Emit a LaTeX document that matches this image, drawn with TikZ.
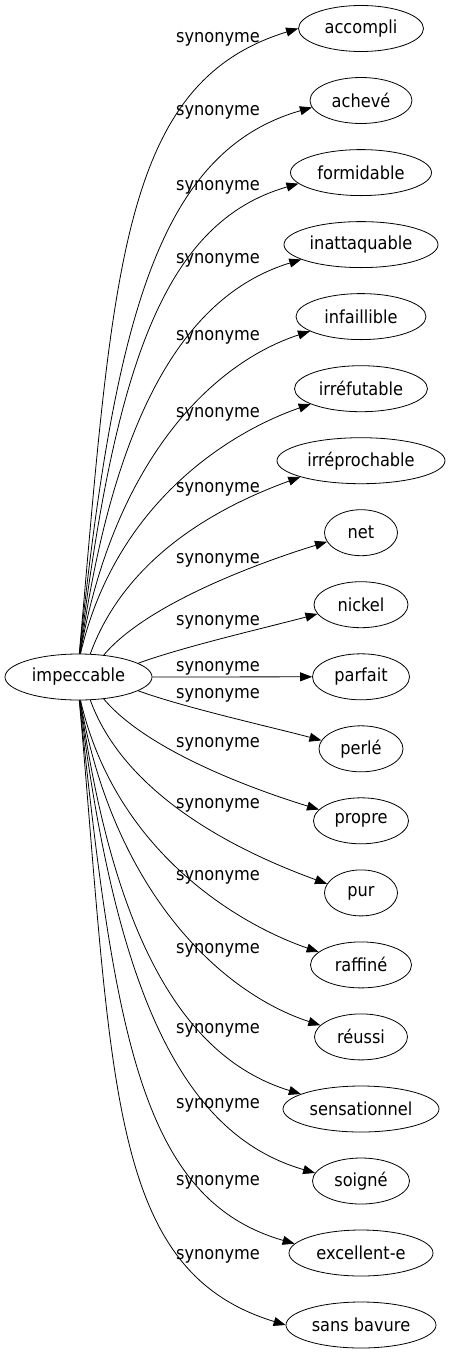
\documentclass[tikz,border=0pt]{standalone}
\usepackage{fontspec}
\setmainfont{DejaVu Sans Condensed}
\usetikzlibrary{shapes.geometric,arrows.meta}
\begin{document}
\begin{tikzpicture}[x=1pt,y=1pt,
  ell/.style={draw,ellipse,inner sep=0pt,minimum height=46pt,line width=0.8pt,font=\fontsize{18}{20}\selectfont},
  edge/.style={draw,line width=0.8pt,-{Triangle[length=12pt,width=9pt]}},
  lab/.style={anchor=base,inner sep=0pt,font=\fontsize{18}{20}\selectfont}]
\useasboundingbox (0,0) rectangle (451,-1355);
\node[ell,minimum width=147pt] (imp) at (78.5,-677) {impeccable};
\node[ell,minimum width=125pt] (n1) at (361,-28.5) {accompli};
\node[ell,minimum width=102pt] (n2) at (361,-100.5) {achevé};
\node[ell,minimum width=141pt] (n3) at (361,-172.6) {formidable};
\node[ell,minimum width=154pt] (n4) at (361,-244.6) {inattaquable};
\node[ell,minimum width=130pt] (n5) at (361,-316.6) {infaillible};
\node[ell,minimum width=133pt] (n6) at (361,-388.7) {irréfutable};
\node[ell,minimum width=168pt] (n7) at (361,-460.7) {irréprochable};
\node[ell,minimum width=73pt] (n8) at (361,-532.7) {net};
\node[ell,minimum width=94pt] (n9) at (361,-604.7) {nickel};
\node[ell,minimum width=97pt] (n10) at (361,-676.8) {parfait};
\node[ell,minimum width=84pt] (n11) at (361,-748.8) {perlé};
\node[ell,minimum width=95pt] (n12) at (361,-820.8) {propre};
\node[ell,minimum width=73pt] (n13) at (361,-892.9) {pur};
\node[ell,minimum width=101pt] (n14) at (361,-964.9) {raffiné};
\node[ell,minimum width=93pt] (n15) at (361,-1036.9) {réussi};
\node[ell,minimum width=156pt] (n16) at (361,-1109) {sensationnel};
\node[ell,minimum width=97pt] (n17) at (361,-1181) {soigné};
\node[ell,minimum width=144pt] (n18) at (361,-1253) {excellent-e};
\node[ell,minimum width=150pt] (n19) at (361,-1325) {sans bavure};
% edges upper
\draw[edge] (imp.88) .. controls +(85:388) and +(197:185) .. (n1.180);
\draw[edge] (imp.88) .. controls +(84:335) and +(196:160) .. (n2.188);
\draw[edge] (imp.87) .. controls +(83:290) and +(196:140) .. (n3.190);
\draw[edge] (imp.86) .. controls +(82:245) and +(197:120) .. (n4.194);
\draw[edge] (imp.86) .. controls +(80:200) and +(198:100) .. (n5.196);
\draw[edge] (imp.85) .. controls +(77:155) and +(199:85) .. (n6.197);
\draw[edge] (imp.63) .. controls +(70:110) and +(200:75) .. (n7.195);
\draw[edge] (imp.41) .. controls +(50:70) and +(197:60) .. (n8.195);
\draw[edge] (imp.13) .. controls +(20:50) and +(195:50) .. (n9.192);
\draw[edge] (imp.east) -- (n10.west);
% edges lower
\draw[edge] (imp.347) .. controls +(340:50) and +(165:50) .. (n11.168);
\draw[edge] (imp.319) .. controls +(310:70) and +(163:60) .. (n12.165);
\draw[edge] (imp.297) .. controls +(290:110) and +(160:75) .. (n13.165);
\draw[edge] (imp.275) .. controls +(283:155) and +(161:85) .. (n14.163);
\draw[edge] (imp.274) .. controls +(280:200) and +(162:100) .. (n15.164);
\draw[edge] (imp.274) .. controls +(278:245) and +(163:120) .. (n16.166);
\draw[edge] (imp.273) .. controls +(277:290) and +(164:140) .. (n17.170);
\draw[edge] (imp.272) .. controls +(276:335) and +(164:160) .. (n18.172);
\draw[edge] (imp.272) .. controls +(275:388) and +(163:185) .. (n19.180);
% labels
\node[lab] (l1) at (218,-42) {synonyme};
\node[lab] (l2) at (218,-115) {synonyme};
\node[lab] (l3) at (218,-190) {synonyme};
\node[lab] (l4) at (218,-263) {synonyme};
\node[lab] (l5) at (218,-340) {synonyme};
\node[lab] (l6) at (218,-417) {synonyme};
\node[lab] (l7) at (218,-492) {synonyme};
\node[lab] (l8) at (218,-563) {synonyme};
\node[lab] (l9) at (218,-625) {synonyme};
\node[lab] (l10) at (218,-671) {synonyme};
\node[lab] (l11) at (218,-698) {synonyme};
\node[lab] (l12) at (218,-747) {synonyme};
\node[lab] (l13) at (218,-808) {synonyme};
\node[lab] (l14) at (218,-880) {synonyme};
\node[lab] (l15) at (218,-953) {synonyme};
\node[lab] (l16) at (218,-1033) {synonyme};
\node[lab] (l17) at (218,-1108) {synonyme};
\node[lab] (l18) at (218,-1185) {synonyme};
\node[lab] (l19) at (218,-1259) {synonyme};
\end{tikzpicture}
\end{document}
